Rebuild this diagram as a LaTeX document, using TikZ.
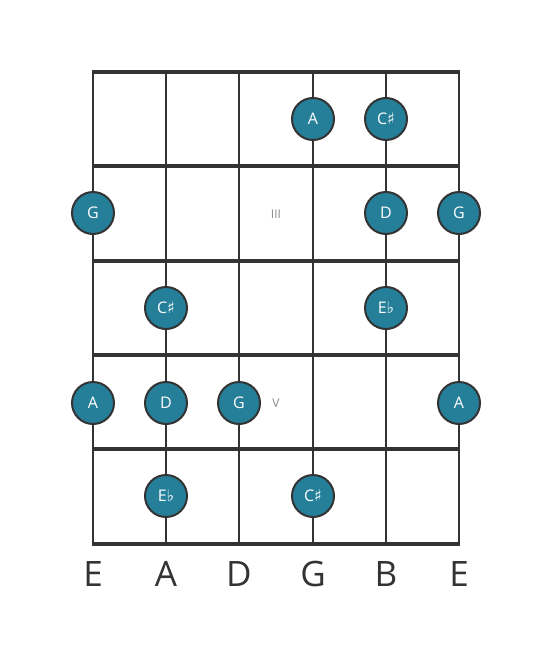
\documentclass[tikz,border=0pt]{standalone}
\usepackage{fontspec}
\setmainfont{Open Sans}
\newfontfamily\symfont{DejaVu Sans}
\newcommand{\shp}{{\symfont\char"266F}}
\newcommand{\flt}{{\symfont\char"266D}}
\definecolor{ink}{HTML}{333333}
\definecolor{teal}{HTML}{267F99}
\definecolor{mark}{HTML}{888888}
\tikzset{
  note/.style={circle, draw=ink, line width=2pt, fill=teal, minimum size=42pt, inner sep=0pt, text=white, font=\fontsize{16}{16}\selectfont},
  stringline/.style={draw=ink, line width=2.5pt},
  fretline/.style={draw=ink, line width=4pt},
  strlabel/.style={text=ink, font=\fontsize{35}{35}\selectfont},
  fretmark/.style={text=mark, font=\fontsize{12}{12}\selectfont}
}
\begin{document}
\begin{tikzpicture}[x=1pt,y=-1pt]
\useasboundingbox (0,0) rectangle (553,656);
% strings
\foreach \x [count=\i] in {93,166,239,313,386,459} {
  \coordinate (st\i) at (\x,72);
  \coordinate (sb\i) at (\x,544);
  \draw[stringline] (st\i) -- (sb\i);
}
% frets
\foreach \y [count=\j] in {72,166,261,355,449,544} {
  \coordinate (fl\j) at (91.75,\y);
  \coordinate (fr\j) at (460.25,\y);
  \draw[fretline] (fl\j) -- (fr\j);
}
% fret markers
\node[fretmark] (m3) at (276,214) {III};
\node[fretmark] (m5) at (276,403) {V};
% notes
\node[note] (n1) at (313,119) {A};
\node[note] (n2) at (386,119) {C\shp};
\node[note] (n3) at (93,213) {G};
\node[note] (n4) at (386,213) {D};
\node[note] (n5) at (459,213) {G};
\node[note] (n6) at (166,308) {C\shp};
\node[note] (n7) at (386,308) {E\flt};
\node[note] (n8) at (93,403) {A};
\node[note] (n9) at (166,403) {D};
\node[note] (n10) at (239,403) {G};
\node[note] (n11) at (459,403) {A};
\node[note] (n12) at (166,496) {E\flt};
\node[note] (n13) at (313,496) {C\shp};
% string names
\foreach \x/\t [count=\i] in {93/E,166/A,239/D,313/G,386/B,459/E} {
  \node[strlabel] (lab\i) at (\x,574) {\t};
}
\end{tikzpicture}
\end{document}
